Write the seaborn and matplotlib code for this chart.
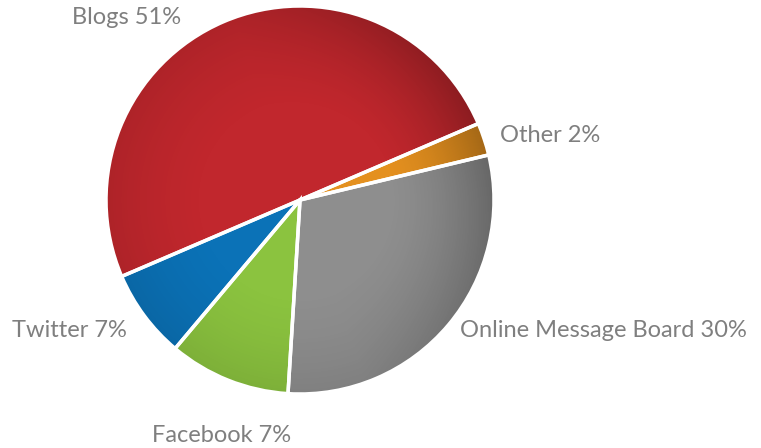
import matplotlib
matplotlib.use("Agg")
import matplotlib.pyplot as plt
import numpy as np
import seaborn as sns
from matplotlib.patches import Circle

sns.set_theme(style="white")
plt.rcParams['font.family'] = ['Lato', 'DejaVu Sans']

# Data (slice sizes; labels as printed)
categories = ["Blogs", "Twitter", "Facebook", "Online Message Board", "Other"]
values = [49.8, 7.4, 10.1, 29.6, 2.7]
label_texts = ["Blogs 51%", "Twitter 7%", "Facebook 7%", "Online Message Board 30%", "Other 2%"]
colors = ["#c1272d", "#0b72b7", "#8bc33f", "#8e8e8e", "#e4901f"]

W, H = 761, 448
fig = plt.figure(figsize=(W / 100, H / 100), dpi=100)
cx, cy, r = 300, 200, 194
ax = fig.add_axes([(cx - r) / W, (H - cy - r) / H, 2 * r / W, 2 * r / H])

ax.pie(values, colors=colors, startangle=23.2, counterclock=True, radius=1,
       wedgeprops=dict(edgecolor="none", linewidth=0))

# subtle radial shading toward the rim
n = 400
g = np.linspace(-1, 1, n)
X, Y = np.meshgrid(g, g)
R = np.sqrt(X ** 2 + Y ** 2)
ang = np.arctan2(Y, X)
strength = 0.10 + 0.18 * np.clip(np.cos(ang - np.deg2rad(20)), 0, 1)
alpha = np.clip(strength * np.clip((R - 0.45) / 0.55, 0, 1) ** 1.6, 0, 1)
rgba = np.zeros((n, n, 4))
rgba[..., 3] = alpha
im = ax.imshow(rgba, extent=(-1, 1, -1, 1), origin="lower", zorder=3)
im.set_clip_path(Circle((0, 0), 1, transform=ax.transData))

wedges, _ = ax.pie(values, colors=["none"] * len(values), startangle=23.2,
                   counterclock=True, radius=1,
                   wedgeprops=dict(edgecolor="white", linewidth=2.5, zorder=4))
for w in wedges:
    w.set_zorder(4)
    w.set_facecolor("none")

ax.set_xlim(-1, 1)
ax.set_ylim(-1, 1)
ax.set_aspect("equal")
ax.axis("off")

# label positions (pixels, left edge / vertical center)
label_pos = {
    "Blogs": (72, 18),
    "Twitter": (12, 330),
    "Facebook": (152, 435),
    "Online Message Board": (460, 330),
    "Other": (500, 135),
}
for cat, txt in zip(categories, label_texts):
    x, y = label_pos[cat]
    fig.text(x / W, 1 - y / H, txt, ha="left", va="center",
             fontsize=17, color="#7f7f7f")

fig.savefig("out.png", dpi=100)
